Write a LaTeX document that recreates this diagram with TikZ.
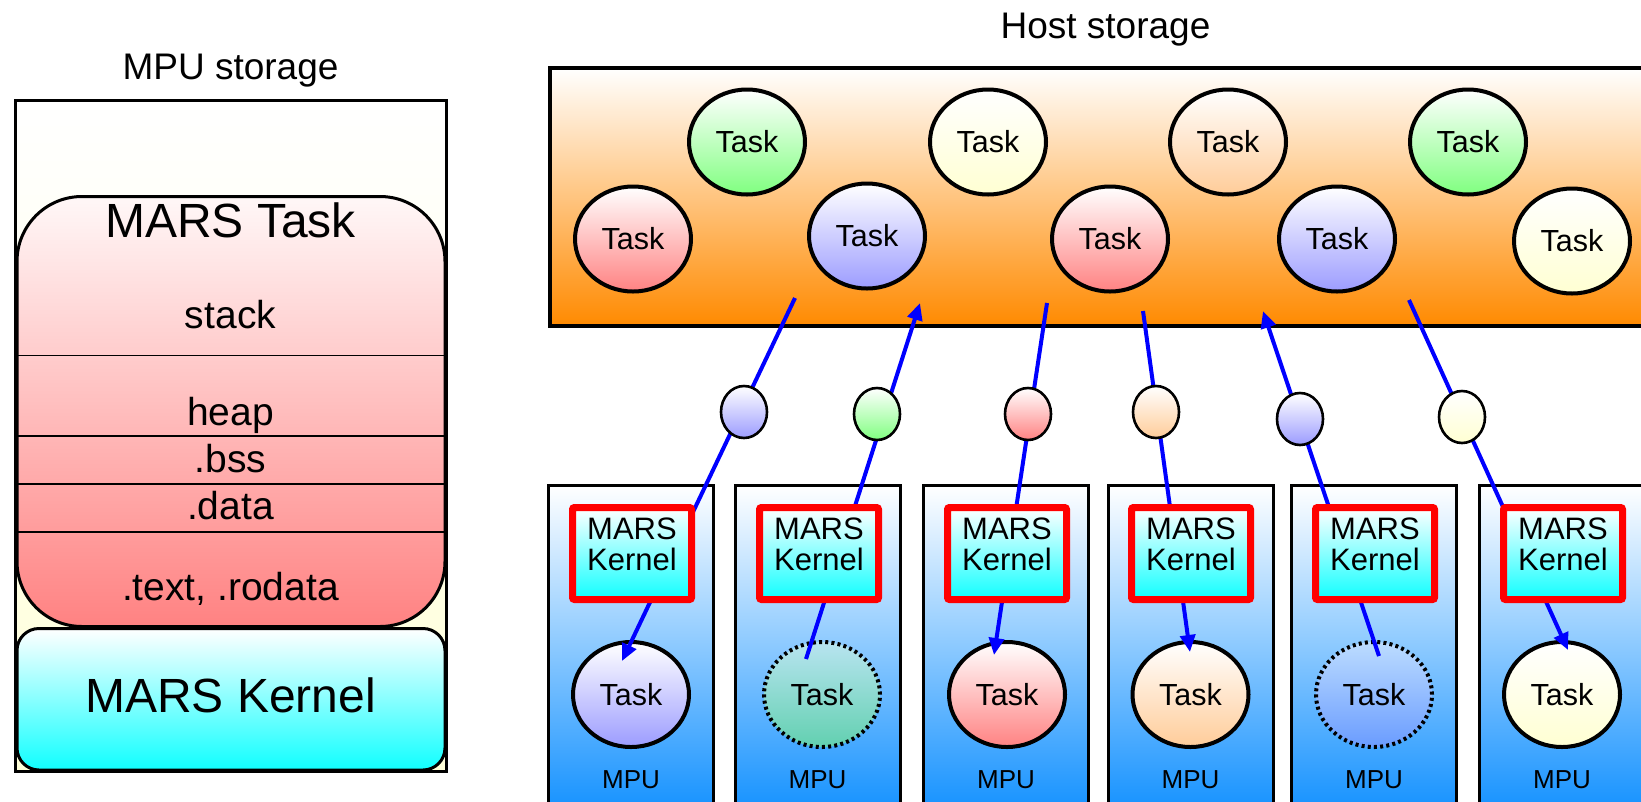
\documentclass[tikz,border=0pt]{standalone}
\usepackage{fontspec}
\setmainfont{Liberation Sans}
\usetikzlibrary{shapes.geometric,arrows.meta}
\definecolor{tred}{HTML}{FF8282}
\definecolor{tgreen}{HTML}{80FF80}
\definecolor{tblue}{HTML}{9C9CFF}
\definecolor{tyellow}{HTML}{FFFFD2}
\definecolor{tpeach}{HTML}{FFCC99}
\definecolor{horange}{HTML}{FF8A00}
\definecolor{mpublue}{HTML}{0088FF}
\definecolor{kcyan}{HTML}{10FFFF}
\definecolor{ltyellow}{HTML}{FFFFD8}
\definecolor{teallo}{HTML}{62D0B0}
\definecolor{tealhi}{HTML}{B8E4F0}
\definecolor{dbluelo}{HTML}{6A9CFF}
\definecolor{dbluehi}{HTML}{BCDCFF}
\tikzset{
  fred/.style={top color=white, bottom color=tred},
  fgreen/.style={top color=white, bottom color=tgreen},
  fblue/.style={top color=white, bottom color=tblue},
  fyellow/.style={top color=white, bottom color=tyellow},
  fpeach/.style={top color=white, bottom color=tpeach},
  taskball/.style={ellipse, draw=black, line width=4pt, minimum width=116pt,
    minimum height=105pt, inner sep=0pt, font=\fontsize{30.5}{30.5}\selectfont},
  ghost/.style={taskball, dash pattern=on 3pt off 3.2pt},
  mini/.style={ellipse, draw=black, line width=2.6pt, minimum width=46pt,
    minimum height=52pt, inner sep=0pt},
  mpubox/.style={rectangle, draw=black, line width=3pt, top color=white,
    bottom color=mpublue, minimum width=165pt, minimum height=355pt, inner sep=0pt},
  kbox/.style={rectangle, draw=red, line width=7pt, rounded corners=2pt,
    top color=white, bottom color=kcyan, minimum width=119pt, minimum height=92pt, inner sep=0pt},
  ktext/.style={align=center, font=\fontsize{31}{31}\selectfont, inner sep=0pt},
  mlabel/.style={font=\fontsize{26}{26}\selectfont, anchor=base, inner sep=0pt},
  seglabel/.style={font=\fontsize{39}{39}\selectfont, anchor=base, inner sep=0pt},
  titlelabel/.style={font=\fontsize{37}{37}\selectfont, anchor=base, inner sep=0pt},
  chan/.style={draw=blue, line width=4pt},
  tipend/.style={-{Triangle[length=17pt,width=15pt]}},
}
\begin{document}
\begin{tikzpicture}[x=1pt,y=-1pt]
\useasboundingbox (0,0) rectangle (1641,801);
\clip (0,0) rectangle (1641,801);
\fill[white] (0,0) rectangle (1641,801);

% ---------- left: MPU storage ----------
\node[titlelabel] (mputitle) at (230.5,79) {MPU storage};
\node[rectangle, draw=black, line width=3pt, top color=white, bottom color=ltyellow,
  minimum width=431.5pt, minimum height=671.5pt, inner sep=0pt] (store) at (230.75,435.75) {};
\node[rectangle, draw=black, line width=3pt, rounded corners=65pt, top color=red!3,
  bottom color=tred, minimum width=428pt, minimum height=430pt, inner sep=0pt] (marstask) at (231,411.5) {};
\draw[line width=1.8pt] (marstask.west |- 0,355.5) -- (marstask.east |- 0,355.5);
\draw[line width=1.8pt] (marstask.west |- 0,436) -- (marstask.east |- 0,436);
\draw[line width=1.8pt] (marstask.west |- 0,484) -- (marstask.east |- 0,484);
\draw[line width=1.8pt] (marstask.west |- 0,532) -- (marstask.east |- 0,532);
\node[font=\fontsize{48}{48}\selectfont, anchor=base, inner sep=0pt] (mtname) at (230.5,237) {MARS Task};
\node[seglabel] (seg1) at (230.5,328) {stack};
\node[seglabel] (seg2) at (230.5,425) {heap};
\node[seglabel] (seg3) at (230.5,472) {.bss};
\node[seglabel] (seg4) at (230.5,519) {.data};
\node[seglabel] (seg5) at (230.5,600) {.text, .rodata};
\node[rectangle, draw=black, line width=3pt, rounded corners=22pt, top color=white,
  bottom color=kcyan, minimum width=428pt, minimum height=141.5pt, inner sep=0pt] (bigkernel) at (231,699.25) {};
\node[font=\fontsize{48}{48}\selectfont, anchor=base, inner sep=0pt] (bigktext) at (230.5,712) {MARS Kernel};

% ---------- right: host storage ----------
\node[titlelabel] (hosttitle) at (1105.5,38) {Host storage};
\node[rectangle, draw=black, line width=4pt, top color=white, bottom color=horange,
  minimum width=1160pt, minimum height=258pt, inner sep=0pt] (host) at (1130,197) {};
\node[taskball, fred]    (ht1) at (633,239) {Task};
\node[taskball, fgreen]  (ht2) at (747,142) {Task};
\node[taskball, fblue]   (ht3) at (867,236) {Task};
\node[taskball, fyellow] (ht4) at (988,142) {Task};
\node[taskball, fred]    (ht5) at (1110,239) {Task};
\node[taskball, fpeach]  (ht6) at (1228,142) {Task};
\node[taskball, fblue]   (ht7) at (1337,239) {Task};
\node[taskball, fgreen]  (ht8) at (1468,142) {Task};
\node[taskball, fyellow] (ht9) at (1572,241) {Task};

% ---------- MPUs ----------
\foreach \i/\x in {1/631,2/817.5,3/1006,4/1190.5,5/1374,6/1562}{
  \node[mpubox] (mpu\i) at (\x,663) {};
  \node[mlabel] (ml\i) at (\x,788) {MPU};
}
\node[taskball, fblue]   (mt1) at (631,694.5) {Task};
\node[ghost, top color=tealhi, bottom color=teallo] (mt2) at (822,694.5) {Task};
\node[taskball, fred]    (mt3) at (1007,694.5) {Task};
\node[taskball, fpeach]  (mt4) at (1190.5,694.5) {Task};
\node[ghost, top color=dbluehi, bottom color=dbluelo] (mt5) at (1374,694.5) {Task};
\node[taskball, fyellow] (mt6) at (1562,694.5) {Task};

% ---------- channels ----------
\coordinate (h1) at (795,298);  \coordinate (m1) at (622,661);
\coordinate (h2) at (920,303);  \coordinate (m2) at (806,659);
\coordinate (h3) at (1047,303); \coordinate (m3) at (994,655);
\coordinate (h4) at (1143,311); \coordinate (m4) at (1190,652);
\coordinate (h5) at (1263,311); \coordinate (m5) at (1379,656);
\coordinate (h6) at (1409,300); \coordinate (m6) at (1568,650);
\draw[chan, tipend] (h1) -- (m1);
\draw[chan, tipend] (m2) -- (h2);
\draw[chan, tipend] (h3) -- (m3);
\draw[chan, tipend] (h4) -- (m4);
\draw[chan, tipend] (m5) -- (h5);
\draw[chan, tipend] (h6) -- (m6);

% ---------- kernels ----------
\foreach \i/\x in {1/632,2/819,3/1007,4/1191,5/1375,6/1563}{
  \node[kbox] (k\i) at (\x,553.5) {};
  \node[ktext] (kt\i) at ([yshift=9pt]k\i.center) {MARS\\Kernel};
}

% ---------- in-flight tasks ----------
\node[mini, fblue]   (s1) at (744,412) {};
\node[mini, fgreen]  (s2) at (877,414) {};
\node[mini, fred]    (s3) at (1028,414) {};
\node[mini, fpeach]  (s4) at (1156,412) {};
\node[mini, fblue]   (s5) at (1300,419) {};
\node[mini, fyellow] (s6) at (1462,417) {};
\end{tikzpicture}
\end{document}
